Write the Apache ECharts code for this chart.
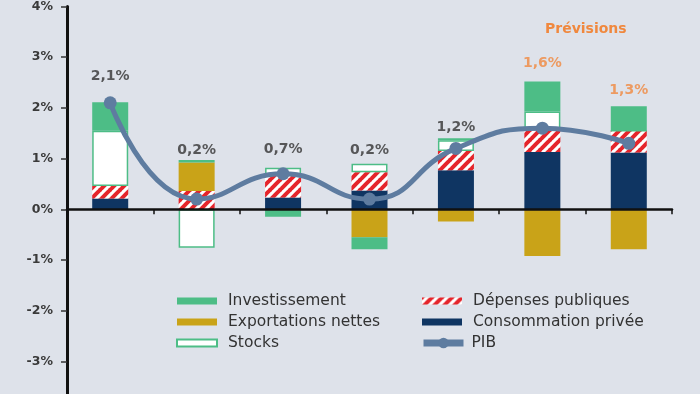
<!DOCTYPE html>
<html>
<head>
<meta charset="utf-8">
<script src="https://cdn.jsdelivr.net/npm/echarts@6/dist/echarts.min.js"></script>
<style>
html,body{margin:0;padding:0;background:#dee2ea;overflow:hidden;}
#c{width:700px;height:412px;}
</style>
</head>
<body>
<div id="c"></div>
<script>
// ---- data ----
const categories = ['2015', '2016', '2017', '2018', '2019', '2020', '2021'];
const consommation = [0.21, 0, 0.23, 0.37, 0.77, 1.13, 1.12];
const depenses = [0.25, 0.36, 0.43, 0.36, 0.38, 0.44, 0.43];
const stocks = [1.09, -0.76, 0.16, 0.17, 0.21, 0.36, 0];
const exportations = [0, 0.56, 0, -0.55, -0.24, -0.92, -0.79];
const investissement = [0.56, 0.05, -0.15, -0.24, 0.04, 0.59, 0.48];
const pib = [2.1, 0.2, 0.7, 0.2, 1.2, 1.6, 1.3];
const forecastFrom = 5; // index of first forecast year
const yTicks = [-4, 4, 1]; // min, max, interval

const chart = echarts.init(document.getElementById('c'));

// striped pattern for "Dépenses publiques"
const pc = document.createElement('canvas');
pc.width = 10; pc.height = 10;
const g = pc.getContext('2d');
g.fillStyle = '#ffffff'; g.fillRect(0, 0, 10, 10);
g.strokeStyle = '#e5252b'; g.lineWidth = 4;
[[-1, 1, 1, -1], [0, 10, 10, 0], [9, 11, 11, 9]].forEach(function (l) {
  g.beginPath(); g.moveTo(l[0], l[1]); g.lineTo(l[2], l[3]); g.stroke();
});
const stripe = { image: pc, repeat: 'repeat' };

const GREEN = '#4dbd86', GOLD = '#c9a318', NAVY = '#0f3562', PIBC = '#5e7ca0', ORANGE = '#f0883e';

// positive stack tops (for placing the PIB labels)
const posTop = categories.map(function (_, i) {
  return [consommation, depenses, stocks, exportations, investissement]
    .reduce(function (s, a) { return s + Math.max(0, a[i]); }, 0);
});
const labelGap = [19, 3, 11, 6, 4, 11, 9];

const fontFam = '"DejaVu Sans", "Noto Sans", sans-serif';
const barW = 36;

function barSeries(name, data, style) {
  return { name: name, type: 'bar', stack: 'total', barWidth: barW, data: data, itemStyle: style, z: 2 };
}

const legendText = { fontSize: 15.5, color: '#333', fontFamily: fontFam, padding: [0, 0, 0, 6] };

const option = {
  backgroundColor: '#dee2ea',
  animation: false,
  textStyle: { fontFamily: fontFam },
  title: {
    text: 'Prévisions', left: 540, top: 17,
    textStyle: { color: ORANGE, fontSize: 14, fontWeight: 'bold', fontFamily: fontFam }
  },
  grid: { left: 67, right: 28, top: 6, bottom: 0, containLabel: false },
  legend: [
    {
      data: [{ name: 'Investissement', icon: 'rect' }, { name: 'Exportations nettes', icon: 'rect' }, { name: 'Stocks', icon: 'rect' }],
      orient: 'vertical', left: 171, top: 288, itemWidth: 40, itemHeight: 7, itemGap: 5, padding: 5,
      textStyle: legendText, selectedMode: false
    },
    {
      data: [{ name: 'Dépenses publiques', icon: 'rect' }, { name: 'Consommation privée', icon: 'rect' }],
      orient: 'vertical', left: 417, top: 288, itemWidth: 40, itemHeight: 7, itemGap: 5, padding: 5,
      textStyle: legendText, selectedMode: false
    },
    {
      data: ['PIB'],
      orient: 'vertical', left: 415, top: 330, itemWidth: 40, itemHeight: 13, padding: 5,
      lineStyle: { width: 7 },
      textStyle: { fontSize: 15.5, color: '#333', fontFamily: fontFam, padding: [0, 0, 0, 3] },
      selectedMode: false
    }
  ],
  xAxis: {
    type: 'category', data: categories,
    axisLine: { onZero: true, lineStyle: { color: '#111', width: 2.5 } },
    axisTick: { show: true, length: 5, lineStyle: { color: '#111', width: 1.5 } },
    axisLabel: { show: false }, z: 5
  },
  yAxis: {
    type: 'value', min: yTicks[0], max: yTicks[1], interval: yTicks[2],
    axisLine: { show: true, lineStyle: { color: '#111', width: 3 } },
    axisTick: { show: true, length: 6, lineStyle: { color: '#333', width: 1.5 } },
    splitLine: { show: false },
    axisLabel: {
      margin: 14, color: '#3a3a3a', fontSize: 12.5, fontWeight: 'bold', fontFamily: fontFam,
      formatter: function (v) { return v === yTicks[0] ? '' : v + '%'; }
    }
  },
  series: [
    barSeries('Consommation privée', consommation, { color: NAVY }),
    barSeries('Dépenses publiques', depenses, { color: stripe }),
    barSeries('Stocks', stocks, { color: '#ffffff', borderColor: GREEN, borderWidth: 1.5 }),
    barSeries('Exportations nettes', exportations, { color: GOLD }),
    barSeries('Investissement', investissement, { color: GREEN }),
    {
      name: 'PIB', type: 'line', data: pib, smooth: 0.5, z: 6,
      symbol: 'circle', symbolSize: 13,
      lineStyle: { color: PIBC, width: 5 },
      itemStyle: { color: PIBC }
    },
    {
      name: 'labels', type: 'scatter', symbolSize: 0, silent: true, z: 7,
      data: posTop.map(function (v, i) {
        return {
          value: v,
          label: {
            show: true, position: 'top', distance: labelGap[i],
            formatter: String(pib[i]).replace('.', ',') + '%',
            color: i >= forecastFrom ? ORANGE : '#333',
            fontSize: 14, fontWeight: 'bold', fontFamily: fontFam
          }
        };
      })
    }
  ]
};
chart.setOption(option);
</script>
</body>
</html>
